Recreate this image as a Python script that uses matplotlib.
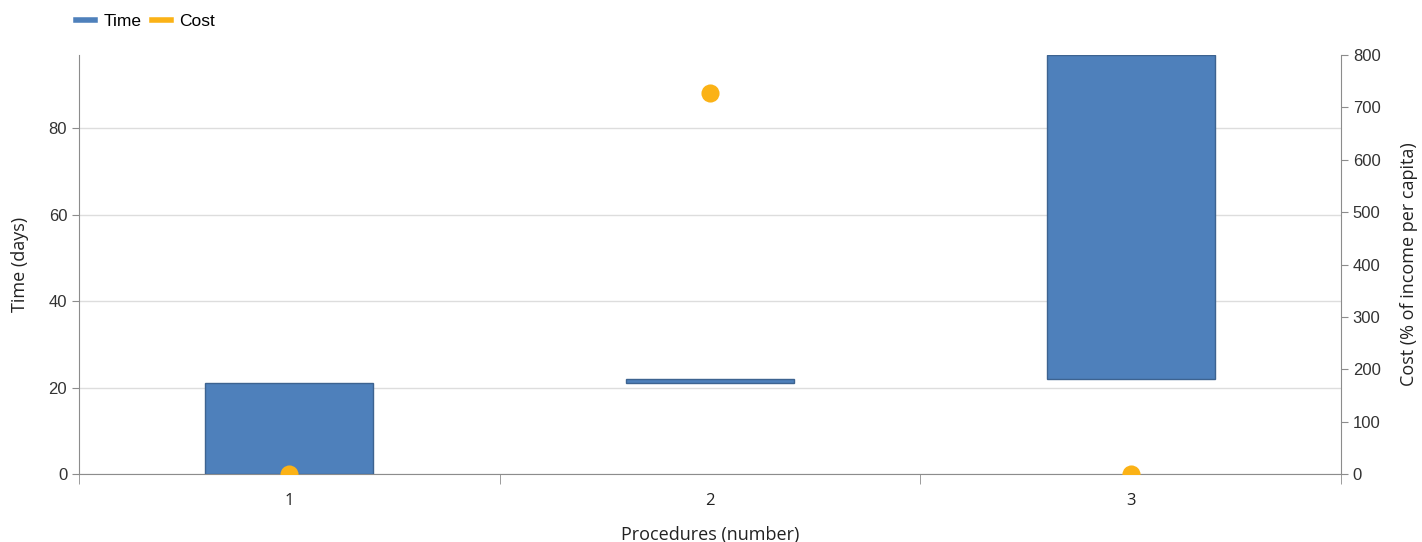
import matplotlib.pyplot as plt
from matplotlib.lines import Line2D
from matplotlib.ticker import FixedLocator

plt.rcParams['font.family'] = ['Open Sans', 'DejaVu Sans']

procedures = [1, 2, 3]
time_start = [0, 21, 22]
time_days = [21, 1, 75]
cost_pct = [0, 727, 0]

bar_color = '#4e80bb'
bar_edge = '#3d6390'
dot_color = '#fbb216'
axis_color = '#8c8c8c'
text_color = '#333333'
tick_font = ['Liberation Sans', 'DejaVu Sans']

fig = plt.figure(figsize=(14.22, 5.42), dpi=100)
ax = fig.add_axes([79 / 1422, 1 - 474 / 542, (1341 - 79) / 1422, (474 - 55) / 542])
ax2 = ax.twinx()

ax.bar(procedures, time_days, bottom=time_start, width=0.4,
       color=bar_color, edgecolor=bar_edge, linewidth=1, zorder=3)
dots = ax2.scatter(procedures, cost_pct, s=170, color=dot_color, linewidths=0, zorder=4)
dots.set_clip_box(ax2.bbox)

ax.set_xlim(0.5, 3.5)
ax.set_ylim(0, max(s + d for s, d in zip(time_start, time_days)))
ax2.set_ylim(0, 800)

ax.set_xticks(procedures)
ax.set_xticklabels([str(p) for p in procedures])
ax.xaxis.set_minor_locator(FixedLocator([0.5, 1.5, 2.5, 3.5]))
ax.tick_params(axis='x', which='major', length=0, pad=14, labelsize=12, labelcolor='#222222')
ax.tick_params(axis='x', which='minor', length=7, color=axis_color)

ax.set_yticks([0, 20, 40, 60, 80])
ax.tick_params(axis='y', length=5, color=axis_color, labelsize=12, labelcolor=text_color)
ax.yaxis.grid(True, color='#dddddd', linewidth=1, zorder=0)
ax.set_axisbelow(True)

ax2.set_yticks(range(0, 801, 100))
ax2.tick_params(axis='y', length=5, color=axis_color, labelsize=12, labelcolor=text_color)

for lbl in ax.get_yticklabels() + ax2.get_yticklabels():
    lbl.set_family(tick_font)

for a in (ax, ax2):
    a.spines['top'].set_visible(False)
    for s in ('left', 'right', 'bottom'):
        a.spines[s].set_color(axis_color)
ax.spines['right'].set_visible(False)
ax2.spines['left'].set_visible(False)
ax2.spines['bottom'].set_visible(False)

ax.set_xlabel('Procedures (number)', fontsize=13, color='#222222', labelpad=12)
ax.set_ylabel('Time (days)', fontsize=13, color='#222222', labelpad=14)
ax2.set_ylabel('Cost (% of income per capita)', fontsize=13, color='#222222', labelpad=14)

handles = [Line2D([], [], color=bar_color, linewidth=4),
           Line2D([], [], color=dot_color, linewidth=4)]
fig.legend(handles, ['Time', 'Cost'], loc='upper left', bbox_to_anchor=(60 / 1422, 1 + 2 / 542),
           ncol=2, frameon=False, handlelength=1.1, handletextpad=0.5, columnspacing=0.6,
           prop={'family': tick_font, 'size': 12.5})

fig.savefig('out.png', dpi=100)
